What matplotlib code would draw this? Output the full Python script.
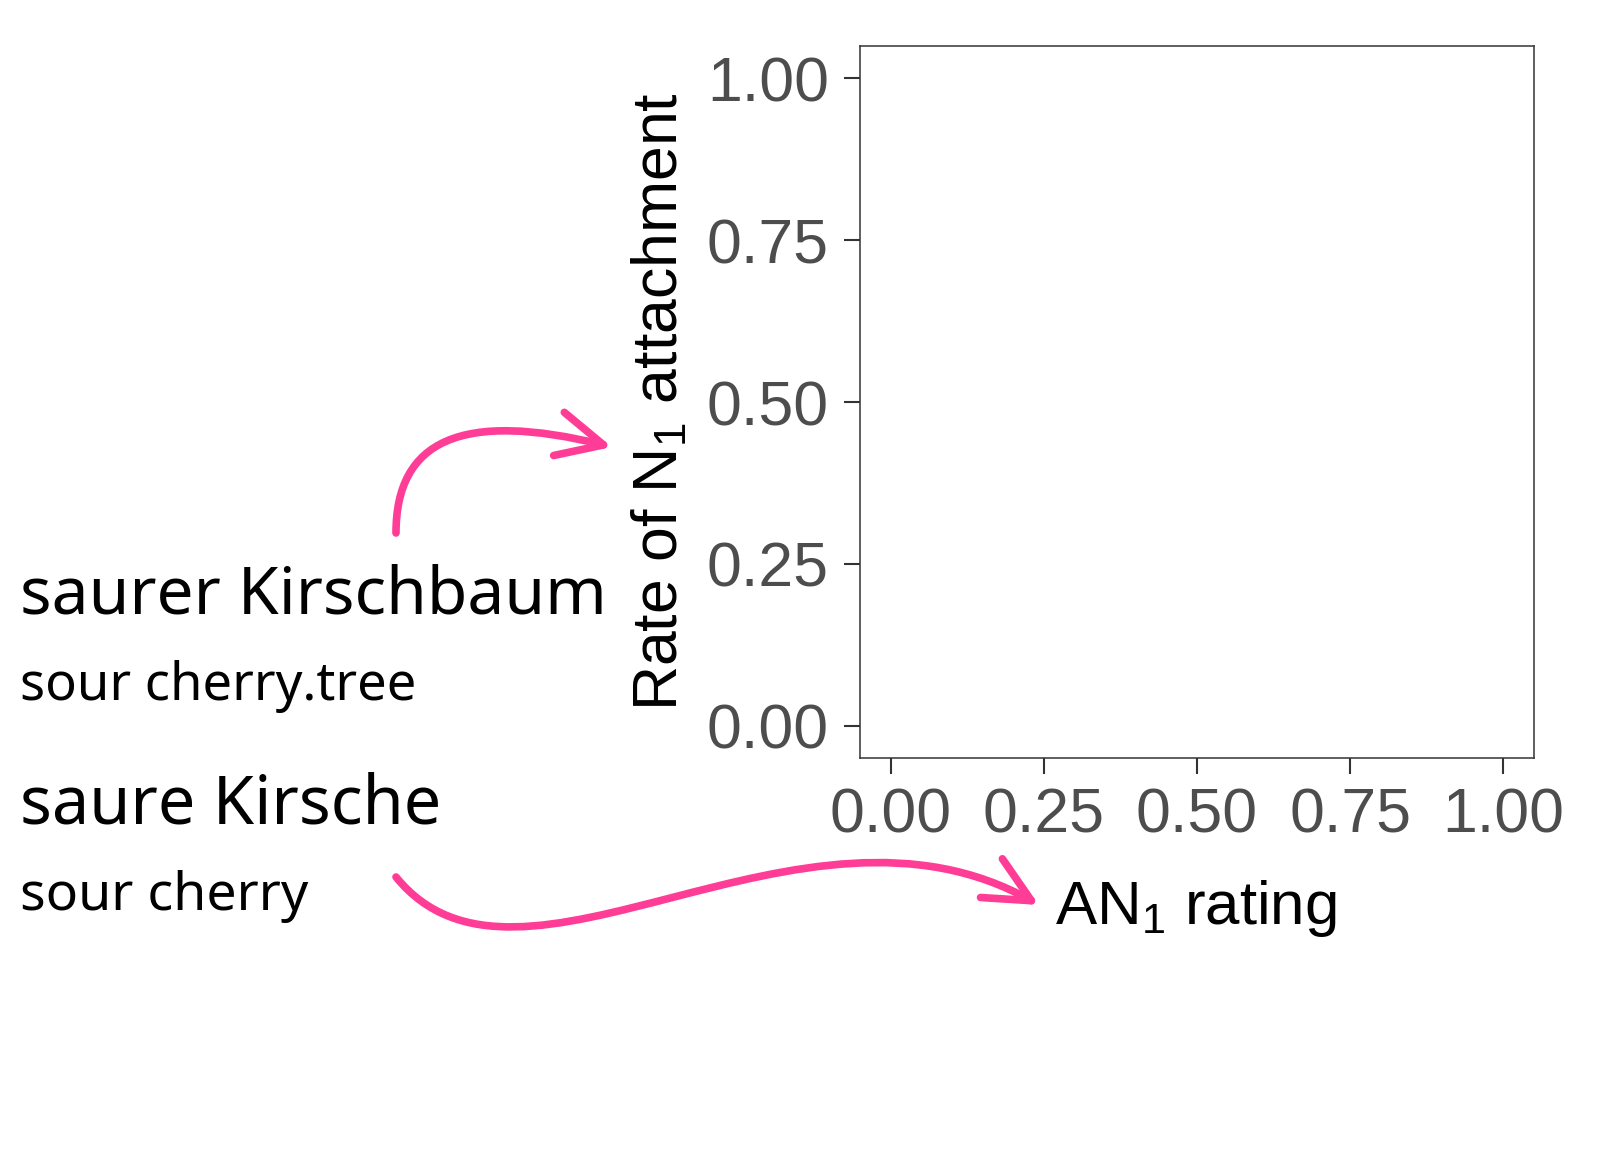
import matplotlib
matplotlib.use('Agg')
import matplotlib.pyplot as plt
from matplotlib.path import Path
from matplotlib.patches import FancyArrowPatch, ArrowStyle

# ---- chart content ----
x_ticks = [0.0, 0.25, 0.5, 0.75, 1.0]
y_ticks = [0.0, 0.25, 0.5, 0.75, 1.0]
x_tick_labels = ['0.00', '0.25', '0.50', '0.75', '1.00']
y_tick_labels = ['0.00', '0.25', '0.50', '0.75', '1.00']
x_label = r'AN$_{\mathrm{1}}$ rating'
y_label = r'Rate of N$_{\mathrm{1}}$ attachment'
phrase_big = ['saurer Kirschbaum', 'saure Kirsche']
phrase_small = ['sour cherry.tree', 'sour cherry']

plt.rcParams['mathtext.fontset'] = 'custom'
plt.rcParams['mathtext.rm'] = 'Liberation Sans'
plt.rcParams['mathtext.it'] = 'Liberation Sans:italic'
plt.rcParams['mathtext.bf'] = 'Liberation Sans:bold'
plt.rcParams['font.family'] = ['Liberation Sans', 'DejaVu Sans']

W, H = 1615, 1158
fig = plt.figure(figsize=(W / 100, H / 100), dpi=100)
fig.patch.set_facecolor('white')

def fx(x):
    return x / W

def fy(y):
    return 1 - y / H

# axes panel
ax = fig.add_axes([fx(860), fy(758), (1534 - 860) / W, (758 - 46) / H])
ax.set_xlim(-0.05, 1.05)
ax.set_ylim(-0.05, 1.05)
ax.set_xticks(x_ticks)
ax.set_xticklabels(x_tick_labels)
ax.set_yticks(y_ticks)
ax.set_yticklabels(y_tick_labels)
for s in ax.spines.values():
    s.set_color('#333333')
    s.set_linewidth(1.1)
ax.tick_params(axis='both', direction='out', length=11.5, width=1.5,
               color='#333333', labelcolor='#4d4d4d', labelsize=45)
ax.tick_params(axis='x', pad=9)
ax.tick_params(axis='y', pad=11)
ax.set_facecolor('white')

# axis titles
fig.text(fx(1196), fy(924), x_label, fontsize=44.5, color='black',
         ha='center', va='baseline', family='Liberation Sans')
fig.text(fx(677), fy(402), y_label, fontsize=45, color='black',
         ha='center', va='baseline', rotation=90, rotation_mode='anchor',
         family='Liberation Sans')

# left-hand phrases
renderer = fig.canvas.get_renderer()

def fit_text(s, x, y, target_w, size0):
    t = fig.text(fx(x), fy(y), s, fontsize=size0, ha='left', va='baseline',
                 family=['Noto Sans', 'DejaVu Sans'], color='black')
    bb = t.get_window_extent(renderer)
    t.set_fontsize(size0 * target_w / bb.width)
    return t

fit_text(phrase_big[0], 20, 614, 586, 48)
fit_text(phrase_small[0], 20, 700, 396, 36)
fit_text(phrase_big[1], 20, 824, 421, 48)
fit_text(phrase_small[1], 20, 910, 288, 36)

# pink arrows
pink = '#ff3d96'

def arrow(verts):
    pts = [(fx(x), fy(y)) for x, y in verts]
    codes = [Path.MOVETO] + [Path.CURVE4] * (len(pts) - 1)
    p = FancyArrowPatch(path=Path(pts, codes),
                        arrowstyle=ArrowStyle('->', head_length=3.3, head_width=1.6),
                        mutation_scale=10, transform=fig.transFigure,
                        color=pink, linewidth=5.5, capstyle='round',
                        joinstyle='round')
    fig.add_artist(p)

arrow([(396, 533), (396, 440), (462, 410), (612, 447)])
arrow([(396, 877), (520, 1030), (800, 770), (1039, 905)])

fig.savefig('out.png', dpi=100, facecolor='white')
